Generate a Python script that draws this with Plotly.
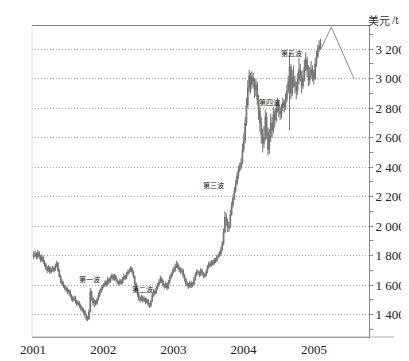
import pandas as pd
import plotly.graph_objects as go

# Weekly copper prices (USD/t), 2001-01 .. 2005-02
week_start = "2001-01-05"
n_weeks = 214

open_ = [
    # 2001
    1790,1800,1815,1790,1820,1795,1770,1790,1760,1740,1715,1700,1720,1690,1705,1715,1700,1730,1750,1700,
    1660,1625,1610,1595,1580,1570,1555,1560,1530,1510,1500,1515,1490,1470,1480,1460,1440,1430,1425,1395,
    1375,1370,1420,1555,1510,1480,1490,1475,1500,1530,1555,1575,
    # 2002
    1590,1600,1620,1605,1640,1625,1650,1665,1640,1660,1635,1620,1610,1630,1615,1640,1660,1650,1675,1690,
    1700,1715,1690,1660,1610,1570,1540,1510,1500,1520,1495,1510,1485,1500,1470,1460,1490,1530,1560,1545,
    1580,1600,1620,1645,1630,1600,1590,1610,1580,1620,1650,1670,
    # 2003
    1690,1700,1725,1745,1720,1705,1690,1700,1665,1640,1610,1600,1590,1615,1595,1605,1640,1670,1690,1685,
    1670,1700,1680,1660,1665,1690,1720,1745,1735,1755,1745,1770,1765,1790,1800,1810,1840,1880,1960,2060,
    2030,2000,1990,2080,2140,2190,2240,2290,2340,2380,2400,2430,
    # 2004
    2520,2580,2700,2820,2940,3020,2960,3010,2980,2920,2960,2860,2780,2700,2620,2560,2600,2740,2640,2520,
    2600,2700,2650,2760,2720,2800,2830,2780,2760,2800,2840,2810,2860,2920,2980,3080,2900,3010,2980,2950,
    2920,2990,3060,3020,2950,3000,3080,3130,3060,2990,3020,3060,3030,
    # 2005
    3000,3100,3150,3200,3220,
]
high = [
    1830,1835,1825,1840,1830,1805,1810,1800,1770,1750,1730,1735,1730,1720,1730,1725,1745,1765,1755,1710,
    1670,1640,1625,1605,1595,1585,1575,1570,1540,1525,1530,1525,1500,1495,1490,1470,1455,1445,1430,1405,
    1390,1435,1580,1565,1520,1505,1500,1515,1550,1570,1590,1605,
    1615,1635,1630,1655,1650,1665,1680,1675,1675,1670,1645,1630,1645,1640,1655,1675,1670,1690,1705,1715,
    1730,1720,1700,1665,1620,1580,1550,1525,1535,1530,1525,1515,1515,1505,1480,1500,1545,1575,1570,1595,
    1615,1640,1665,1655,1640,1610,1625,1615,1635,1665,1685,1710,
    1725,1745,1765,1755,1735,1720,1715,1710,1675,1650,1625,1615,1630,1625,1620,1655,1685,1705,1705,1695,
    1715,1710,1690,1680,1705,1735,1760,1760,1770,1770,1785,1785,1805,1815,1830,1860,1900,1985,2100,2090,
    2050,2030,2110,2165,2215,2265,2315,2365,2410,2430,2460,2560,
    2630,2740,2870,2990,3060,3040,3050,3040,3000,3000,2980,2890,2810,2740,2660,2680,2790,2770,2670,2660,
    2760,2740,2810,2790,2840,2870,2850,2810,2830,2870,2860,2900,2960,3020,3180,3100,3060,3090,3020,2980,
    3040,3140,3100,3050,3060,3130,3180,3150,3090,3080,3120,3090,3060,
    3140,3190,3230,3260,3270,
]
low = [
    1775,1790,1775,1780,1780,1755,1760,1745,1725,1700,1680,1690,1675,1680,1690,1685,1695,1720,1690,1650,
    1610,1595,1580,1565,1555,1540,1540,1520,1495,1485,1490,1475,1455,1460,1445,1425,1415,1405,1385,1360,
    1355,1365,1415,1495,1460,1450,1460,1465,1495,1520,1545,1565,
    1580,1590,1590,1600,1610,1615,1640,1630,1630,1625,1605,1595,1600,1600,1610,1630,1635,1640,1665,1680,
    1690,1675,1645,1595,1555,1520,1495,1480,1490,1480,1485,1470,1475,1455,1445,1450,1485,1520,1530,1540,
    1570,1590,1610,1615,1590,1575,1580,1565,1575,1610,1640,1660,
    1680,1690,1715,1705,1690,1675,1680,1650,1625,1595,1585,1575,1580,1580,1585,1600,1630,1660,1670,1655,
    1660,1665,1645,1650,1655,1680,1710,1720,1725,1730,1735,1750,1755,1780,1790,1800,1830,1870,1950,2000,
    1960,1960,1985,2070,2125,2175,2225,2275,2320,2365,2385,2420,
    2500,2560,2680,2800,2910,2900,2930,2940,2870,2880,2820,2720,2640,2560,2500,2530,2580,2590,2480,2490,
    2570,2600,2630,2670,2700,2770,2740,2720,2730,2780,2770,2790,2840,2900,2650,2860,2880,2940,2900,2860,
    2890,2960,2980,2900,2930,2980,3050,3010,2950,2960,3000,2980,2960,
    2990,3080,3140,3180,3200,
]
close = [
    1800,1815,1790,1820,1795,1770,1790,1760,1740,1715,1700,1720,1690,1705,1715,1700,1730,1750,1700,1660,
    1625,1610,1595,1580,1570,1555,1560,1530,1510,1500,1515,1490,1470,1480,1460,1440,1430,1425,1395,1375,
    1370,1420,1555,1510,1480,1490,1475,1500,1530,1555,1575,1590,
    1600,1620,1605,1640,1625,1650,1665,1640,1660,1635,1620,1610,1630,1615,1640,1660,1650,1675,1690,1700,
    1715,1690,1660,1610,1570,1540,1510,1500,1520,1495,1510,1485,1500,1470,1460,1490,1530,1560,1545,1580,
    1600,1620,1645,1630,1600,1590,1610,1580,1620,1650,1670,1690,
    1700,1725,1745,1720,1705,1690,1700,1665,1640,1610,1600,1590,1615,1595,1605,1640,1670,1690,1685,1670,
    1700,1680,1660,1665,1690,1720,1745,1735,1755,1745,1770,1765,1790,1800,1810,1840,1880,1960,2060,2030,
    2000,1990,2080,2140,2190,2240,2290,2340,2380,2400,2430,2520,
    2580,2700,2820,2940,3020,2960,3010,2980,2920,2960,2860,2780,2700,2620,2560,2600,2740,2640,2520,2600,
    2700,2650,2760,2720,2800,2830,2780,2760,2800,2840,2810,2860,2920,2980,3080,2900,3010,2980,2950,2920,
    2990,3060,3020,2950,3000,3080,3130,3060,2990,3020,3060,3030,3000,
    3100,3150,3200,3220,3240,
]

# Projected path drawn after the data
proj_dates = ["2005-02-05", "2005-04-01", "2005-07-26"]
proj_values = [3198, 3350, 3006]

# Wave labels
wave_labels = ["第一波", "第二波", "第三波", "第四波", "第五波"]
wave_dates = ["2001-10-20", "2002-07-27", "2003-07-31", "2004-05-16", "2004-09-06"]
wave_values = [1640, 1572, 2280, 2843, 3174]

# Axis ticks
year_ticks = ["2001-01-01", "2002-01-01", "2003-01-01", "2004-01-01", "2005-01-01"]
year_labels = ["2001", "2002", "2003", "2004", "2005"]
price_ticks = [1400, 1600, 1800, 2000, 2200, 2400, 2600, 2800, 3000, 3200]
price_labels = ["1 400", "1 600", "1 800", "2 000", "2 200", "2 400", "2 600", "2 800", "3 000", "3 200"]

dates = pd.date_range(week_start, periods=n_weeks, freq="W-FRI")

fig = go.Figure()
fig.add_trace(go.Candlestick(
    x=dates, open=open_, high=high, low=low, close=close,
    increasing=dict(line=dict(color="#707070", width=1), fillcolor="#b5b5b5"),
    decreasing=dict(line=dict(color="#707070", width=1), fillcolor="#8a8a8a"),
    whiskerwidth=0, showlegend=False, hoverinfo="skip",
))
fig.add_trace(go.Scatter(
    x=proj_dates, y=proj_values, mode="lines+markers",
    line=dict(color="#8c8c8c", width=1),
    marker=dict(size=[0, 0, 3], color="#8c8c8c"),
    showlegend=False, cliponaxis=False, hoverinfo="skip",
))

for t, d, v in zip(wave_labels, wave_dates, wave_values):
    fig.add_annotation(x=d, y=v, text=t, showarrow=False,
                       font=dict(family="Noto Sans CJK SC", size=7, color="#1a1a1a"))

# unit label: CJK part + serif "/t"
fig.add_annotation(xref="paper", yref="paper", x=1.066, y=1.02, xanchor="right", yanchor="middle",
                   text="美元", showarrow=False, borderpad=0,
                   font=dict(family="Noto Sans CJK SC", size=11, color="#333"))
fig.add_annotation(xref="paper", yref="paper", x=1.064, y=1.02, xanchor="left", yanchor="middle",
                   text="/t", showarrow=False, borderpad=0,
                   font=dict(family="Liberation Serif", size=12, color="#333"))

# bottom baseline extending past the right axis, faint left edge
fig.add_shape(type="line", xref="paper", yref="paper", x0=0, x1=1.075, y0=0, y1=0,
              line=dict(color="#b0b0b0", width=1))
fig.add_shape(type="line", xref="paper", yref="paper", x0=0, x1=0, y0=0, y1=1,
              line=dict(color="#e2e2e2", width=1))

fig.update_layout(
    width=409, height=361,
    margin=dict(l=19, r=42, t=18, b=24),
    paper_bgcolor="white", plot_bgcolor="white",
    font=dict(family="Liberation Serif", size=13, color="#222"),
    xaxis=dict(
        type="date", range=["2000-12-27", "2005-10-14"],
        tickvals=year_ticks, ticktext=year_labels,
        showgrid=False, zeroline=False, rangeslider=dict(visible=False),
        showline=True, linecolor="#808080", linewidth=1, mirror=True,
        ticks="", tickfont=dict(family="Liberation Serif", size=13, color="#222"),
    ),
    yaxis=dict(
        side="right", range=[1248, 3357],
        tickvals=price_ticks, ticktext=price_labels,
        showgrid=True, gridcolor="#a8a8a8", griddash="1px,2px", gridwidth=1,
        zeroline=False, showline=True, linecolor="#8a8a8a", linewidth=1,
        ticks="outside", ticklen=3, tickcolor="#8a8a8a",
        minor=dict(dtick=100, tick0=1300, ticks="outside", ticklen=3, tickcolor="#8a8a8a", showgrid=False),
        tickfont=dict(family="Liberation Serif", size=13, color="#222"),
    ),
)

fig.write_html("out.html")
